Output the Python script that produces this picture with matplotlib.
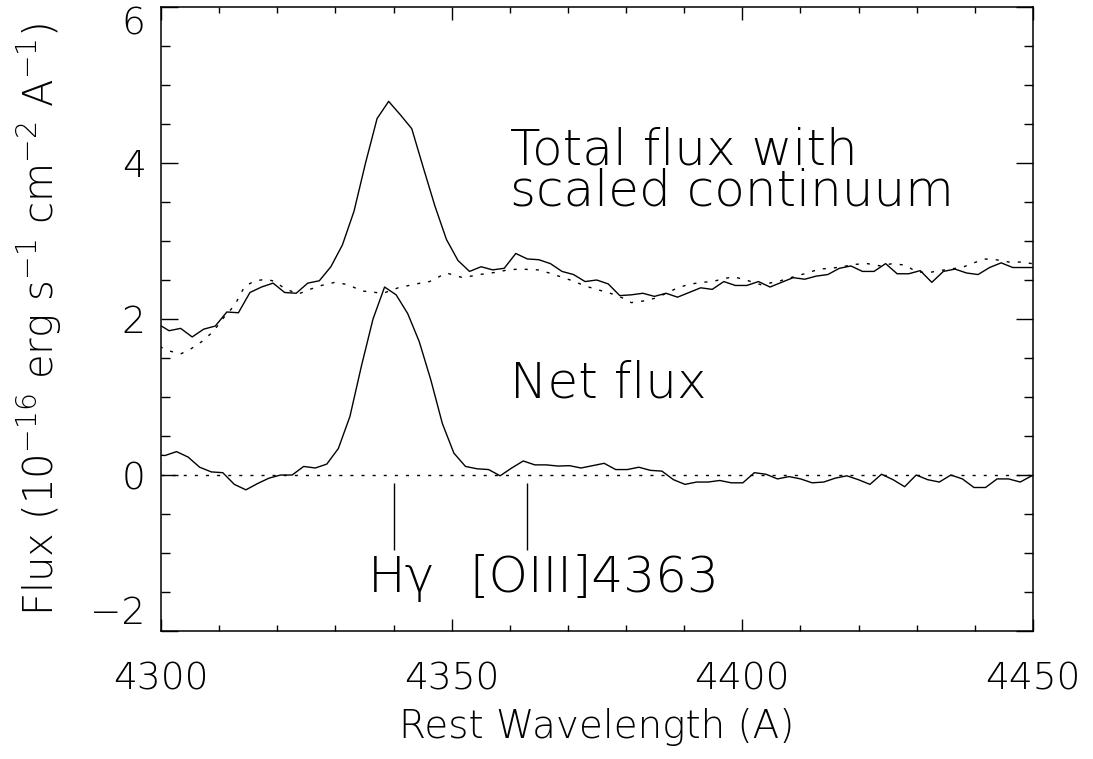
import numpy as np
import matplotlib
matplotlib.use('Agg')
import matplotlib.pyplot as plt
from matplotlib import font_manager as fm
from matplotlib.ticker import MultipleLocator

# ---------------- data ----------------
net_lam0, net_step = 4298.7, 1.988
net_flux = [0.26, 0.25, 0.30, 0.23, 0.10, 0.04, 0.03, -0.12, -0.19, -0.11,
            -0.04, 0.00, 0.00, 0.11, 0.09, 0.14, 0.34, 0.75, 1.40, 2.00,
            2.41, 2.31, 2.07, 1.71, 1.22, 0.66, 0.28, 0.11, 0.08, 0.07,
            -0.01, 0.09, 0.18, 0.13, 0.13, 0.115, 0.12, 0.09, 0.12, 0.15,
            0.07, 0.07, 0.10, 0.06, 0.05, -0.06, -0.12, -0.09, -0.09, -0.07,
            -0.10, -0.10, 0.03, 0.01, -0.05, -0.02, -0.05, -0.10, -0.09, -0.04,
            -0.01, -0.06, -0.12, 0.01, -0.06, -0.15, 0.00, -0.06, -0.09, 0.00,
            -0.05, -0.16, -0.16, -0.05, -0.05, -0.09, -0.01]

tot_lam0, tot_step = 4299.4, 1.988
total_flux = [1.94, 1.85, 1.88, 1.77, 1.87, 1.91, 2.09, 2.08, 2.34, 2.41,
              2.46, 2.34, 2.33, 2.46, 2.49, 2.67, 2.95, 3.38, 4.00, 4.57,
              4.79, 4.62, 4.44, 3.94, 3.45, 3.02, 2.75, 2.61, 2.67, 2.63,
              2.65, 2.84, 2.77, 2.76, 2.71, 2.61, 2.57, 2.48, 2.50, 2.45,
              2.30, 2.31, 2.33, 2.29, 2.33, 2.28, 2.34, 2.40, 2.38, 2.48,
              2.43, 2.43, 2.48, 2.41, 2.47, 2.53, 2.51, 2.55, 2.57, 2.65,
              2.68, 2.61, 2.61, 2.71, 2.58, 2.58, 2.62, 2.47, 2.61, 2.64,
              2.59, 2.57, 2.66, 2.72, 2.66, 2.66, 2.66]

cont_lam = [4299.8, 4301.5, 4303.3, 4305.0, 4307.0, 4309.0, 4310.7, 4312.7,
            4314.4, 4316.2, 4318.2, 4319.6, 4321.3, 4323.6, 4325.6, 4327.6,
            4329.9, 4332.2, 4334.5, 4338.2, 4340.8, 4343.9, 4346.2, 4349.1,
            4351.9, 4354.8, 4357.7, 4359.7, 4361.7, 4364.8, 4366.8, 4368.8,
            4370.8, 4373.1, 4375.4, 4377.7, 4379.4, 4380.9, 4382.9, 4385.2,
            4388.6, 4390.6, 4392.9, 4394.9, 4396.9, 4398.6, 4400.6, 4403.2,
            4406.1, 4409.2, 4411.2, 4413.2, 4415.2, 4417.2, 4419.2, 4421.5,
            4423.8, 4425.8, 4428.1, 4429.8, 4431.8, 4433.8, 4435.9, 4438.1,
            4440.2, 4441.6, 4443.6, 4445.9, 4448.2, 4449.8]
cont_flux = [1.645, 1.59, 1.55, 1.61, 1.71, 1.84, 2.01, 2.18,
             2.42, 2.49, 2.51, 2.48, 2.39, 2.32, 2.38, 2.43,
             2.47, 2.44, 2.36, 2.33, 2.40, 2.45, 2.48, 2.59,
             2.53, 2.57, 2.60, 2.63, 2.64, 2.63, 2.59, 2.54,
             2.49, 2.42, 2.37, 2.32, 2.27, 2.21, 2.23, 2.27,
             2.39, 2.44, 2.47, 2.48, 2.52, 2.54, 2.50, 2.44,
             2.48, 2.55, 2.59, 2.64, 2.65, 2.67, 2.70, 2.71,
             2.68, 2.71, 2.69, 2.61, 2.59, 2.62, 2.64, 2.67,
             2.73, 2.77, 2.76, 2.73, 2.73, 2.71]

line_waves = [4340, 4363]
line_labels = ['H\u03b3', '[OIII]4363']

x_ticks = [4300, 4350, 4400, 4450]
y_ticks = [-2, 0, 2, 4, 6]
y_ticklabels = ['\u22122', '0', '2', '4', '6']

# ---------------- fonts ----------------
def wnum(w):
    if isinstance(w, int):
        return w
    return {'ultralight': 200, 'extralight': 200, 'light': 300, 'normal': 400,
            'regular': 400, 'book': 400}.get(str(w).lower(), 400)

avail = {}
for e in fm.fontManager.ttflist:
    if e.style == 'normal':
        avail.setdefault(e.name, set()).add(wnum(e.weight))

prefs = [('DejaVu Sans', 200), ('Open Sans', 300), ('Roboto', 300), ('Lato', 300)]
family, weight = 'DejaVu Sans', 400
for fam, w in prefs:
    if fam in avail and w in avail[fam]:
        family, weight = fam, w
        break

plt.rcParams['font.family'] = [family, 'DejaVu Sans']
plt.rcParams['font.weight'] = weight
plt.rcParams['axes.labelweight'] = weight
plt.rcParams['mathtext.fontset'] = 'custom'
plt.rcParams['mathtext.rm'] = f'{family}:weight={weight}'
plt.rcParams['mathtext.it'] = f'{family}:weight={weight}'
plt.rcParams['mathtext.bf'] = f'{family}:weight={weight}'
plt.rcParams['axes.linewidth'] = 1.1

fig = plt.figure(figsize=(10.93, 7.59), dpi=100)
ax = fig.add_axes([0.1473, 0.1686, 0.9451 - 0.1473, 0.9908 - 0.1686])

net_lam = net_lam0 + net_step * np.arange(len(net_flux))
tot_lam = tot_lam0 + tot_step * np.arange(len(total_flux))

dots = (0, (2.2, 5.8))
ax.plot(tot_lam, total_flux, color='black', lw=1.0)
ax.plot(cont_lam, cont_flux, color='black', lw=1.0, ls=dots)
ax.plot(net_lam, net_flux, color='black', lw=1.0)
ax.axhline(0, color='black', lw=1.0, ls=dots)
ax.vlines(line_waves, -0.96, -0.10, color='black', lw=1.0)

ax.set_xlim(4300, 4450)
ax.set_ylim(-2, 6)
ax.set_xticks(x_ticks)
ax.set_yticks(y_ticks)
ax.set_yticklabels(y_ticklabels)
ax.xaxis.set_minor_locator(MultipleLocator(10))
ax.yaxis.set_minor_locator(MultipleLocator(0.5))
ax.tick_params(which='both', direction='in', top=True, right=True, width=1.0,
               labelsize=27)
ax.tick_params(axis='x', which='major', length=9, pad=22)
ax.tick_params(axis='x', which='minor', length=4.5)
ax.tick_params(axis='y', which='major', length=12.5, pad=11)
ax.tick_params(axis='y', which='minor', length=6.3)
ylabs = ax.get_yticklabels()
ylabs[0].set_verticalalignment('bottom')
ylabs[-1].set_verticalalignment('top')

ax.set_xlabel('Rest Wavelength (A)', fontsize=28, labelpad=8)
ax.set_ylabel('Flux (10$^{-16}$ erg s$^{-1}$ cm$^{-2}$ A$^{-1}$)', fontsize=29,
              labelpad=19)

ax.text(4360.0, 3.46, 'Total flux with\nscaled continuum', fontsize=36,
        ha='left', va='baseline', linespacing=0.8)
ax.text(4360.0, 0.99, 'Net flux', fontsize=36, ha='left', va='baseline')
ax.text(4335.6, -1.50, line_labels[0], fontsize=36, ha='left', va='baseline')
ax.text(4353.1, -1.50, line_labels[1], fontsize=36, ha='left', va='baseline')

fig.savefig('out.png', dpi=100)
